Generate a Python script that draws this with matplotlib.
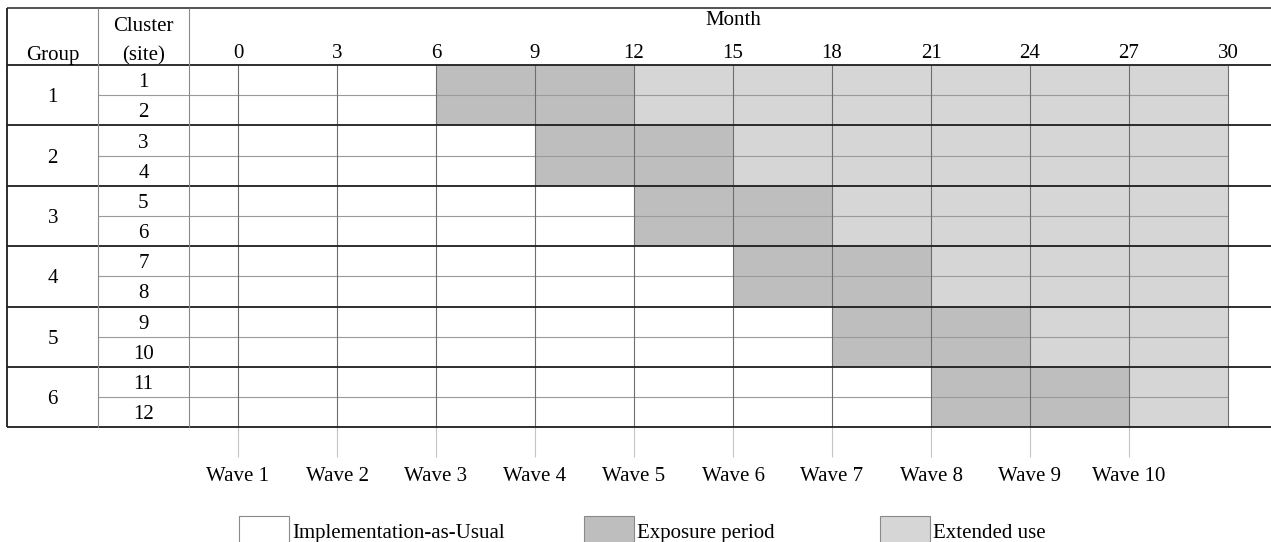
import matplotlib.pyplot as plt
from matplotlib.patches import Rectangle

plt.rcParams['font.family'] = ['Liberation Serif', 'DejaVu Serif']

# data
groups = [1, 2, 3, 4, 5, 6]
clusters = [[1, 2], [3, 4], [5, 6], [7, 8], [9, 10], [11, 12]]
exposure_start = [6, 9, 12, 15, 18, 21]   # month the exposure period begins
exposure_length = 6
study_end = 30
month_ticks = [0, 3, 6, 9, 12, 15, 18, 21, 24, 27, 30]
wave_months = [0, 3, 6, 9, 12, 15, 18, 21, 24, 27]
wave_labels = ['Wave 1', 'Wave 2', 'Wave 3', 'Wave 4', 'Wave 5',
               'Wave 6', 'Wave 7', 'Wave 8', 'Wave 9', 'Wave 10']
legend_labels = ['Implementation-as-Usual', 'Exposure period', 'Extended use']

IAU_COL = 'white'
EXP_COL = '#bebebe'
EXT_COL = '#d6d6d6'

W, H = 1271, 542
# layout: pixel -> data units (x in months, y in rows)
PX_MONTH = 33.0
X_ZERO = 238.0
PX_ROW = 30.2
Y_ZERO = 65.0


def px_x(p):
    return (p - X_ZERO) / PX_MONTH


def px_y(p):
    return (p - Y_ZERO) / PX_ROW


fig = plt.figure(figsize=(W / 100, H / 100), dpi=100)
ax = fig.add_axes([0, 0, 1, 1])
ax.set_xlim(px_x(0), px_x(W))
ax.set_ylim(px_y(H), px_y(0))
ax.axis('off')

x_left = px_x(7.3)
x_sep = px_x(98.3)
x_month = -1.5
x_right = px_x(W)
y_top = px_y(8)
n_rows = sum(len(c) for c in clusters)
fs = 15

# cells
for g, (grp, cl, start) in enumerate(zip(groups, clusters, exposure_start)):
    for k, c in enumerate(cl):
        r = 2 * g + k
        ax.barh(r + 0.5, exposure_length, left=start, height=1,
                color=EXP_COL, edgecolor='none', zorder=1)
        ext_left = start + exposure_length
        ax.barh(r + 0.5, study_end - ext_left, left=ext_left, height=1,
                color=EXT_COL, edgecolor='none', zorder=1)
        ax.text((x_sep + x_month) / 2, r + 0.5, str(c), ha='center',
                va='center_baseline', fontsize=fs)
    ax.text((x_left + x_sep) / 2, 2 * g + 1, str(grp), ha='center',
            va='center_baseline', fontsize=fs)
    # row separator inside group
    ax.hlines(2 * g + 1, x_sep, study_end, color='#9a9a9a', lw=0.8, zorder=2)

# month grid
ax.vlines(month_ticks, 0, n_rows, color='#6e6e6e', lw=0.8, zorder=2)
ax.vlines(wave_months, n_rows, px_y(457), color='#c4c4c4', lw=0.8, zorder=2)

# group lines, borders
ax.hlines([2 * g for g in range(len(groups) + 1)], x_left, x_right,
          color='#1e1e1e', lw=1.3, zorder=3)
ax.hlines(y_top, x_left, x_right, color='#333333', lw=1.2, zorder=3)
ax.vlines(x_left, y_top, n_rows, color='#1e1e1e', lw=1.3, zorder=3)
ax.vlines([x_sep, x_month], y_top, n_rows, color='#8a8a8a', lw=0.8, zorder=3)

# header
ax.text((x_left + x_sep) / 2, px_y(53), 'Group', ha='center',
        va='center_baseline', fontsize=fs)
ax.text((x_sep + x_month) / 2, px_y(24), 'Cluster', ha='center',
        va='center_baseline', fontsize=fs)
ax.text((x_sep + x_month) / 2, px_y(53), '(site)', ha='center',
        va='center_baseline', fontsize=fs)
ax.text(study_end / 2, px_y(18), 'Month', ha='center',
        va='center_baseline', fontsize=fs)
for m in month_ticks:
    ax.text(m, px_y(51), str(m), ha='center', va='center_baseline', fontsize=fs)

# waves
for m, lab in zip(wave_months, wave_labels):
    ax.text(m, px_y(474), lab, ha='center', va='center_baseline', fontsize=fs)

# legend
legend_x = [px_x(239), px_x(584), px_x(880)]
legend_cols = [IAU_COL, EXP_COL, EXT_COL]
box_w = 50 / PX_MONTH
for lx, col, lab in zip(legend_x, legend_cols, legend_labels):
    ax.add_patch(Rectangle((lx, px_y(516)), box_w, 1.0, facecolor=col,
                           edgecolor='#8a8a8a', lw=0.8, clip_on=False))
    ax.text(lx + box_w + 3 / PX_MONTH, px_y(531), lab, ha='left',
            va='center_baseline', fontsize=fs)

fig.savefig('out.png', dpi=100)
